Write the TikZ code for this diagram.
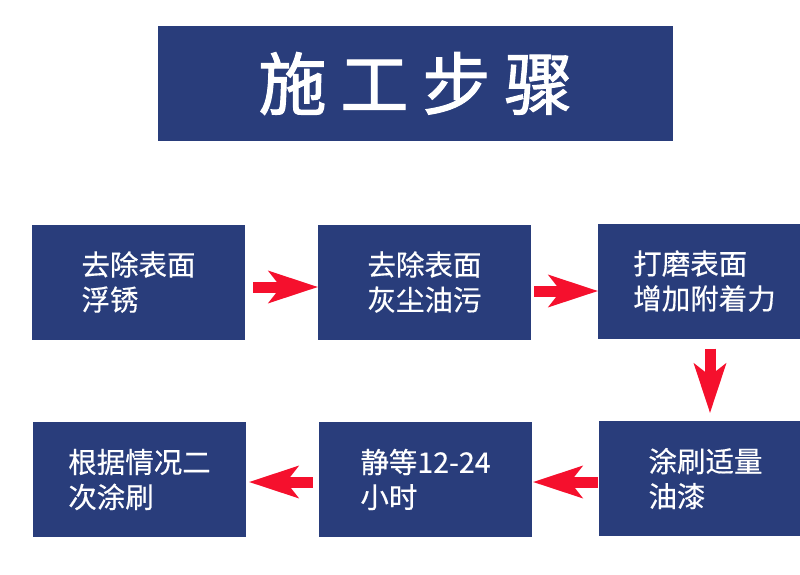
\documentclass[tikz,border=0pt]{standalone}
\usepackage{fontspec}
\newfontfamily\cjk[FakeBold=0.4]{Noto Sans CJK SC}
\newfontfamily\cjktitle[FakeBold=1.6]{Noto Sans CJK SC}
\usetikzlibrary{arrows.meta}
\definecolor{navy}{RGB}{41,61,123}
\definecolor{arrred}{RGB}{245,16,45}
\begin{document}
\begin{tikzpicture}[x=1pt,y=-1pt,
  stepbox/.style={fill=navy,draw=none,minimum width=213pt,minimum height=115pt,inner sep=0pt,
    text=white,align=left,font=\cjk\fontsize{28.5pt}{35pt}\selectfont},
  arr/.style={draw=arrred,line width=11pt,
    -{Stealth[length=50pt,width=33pt,inset=13pt,line width=0pt]}}]
\useasboundingbox (0,0) rectangle (800,574);
\fill[white] (0,0) rectangle (800,574);
\node[fill=navy,minimum width=515pt,minimum height=115pt,inner sep=0pt,text=white,
  font=\cjktitle\fontsize{68pt}{80pt}\selectfont] (title) at (415.5,83.5)
  {施\hspace{14pt}工\hspace{14pt}步\hspace{14pt}骤};
\node[stepbox] (b1) at (138.5,282) {去除表面\\浮锈};
\node[stepbox] (b2) at (424.5,282) {去除表面\\灰尘油污};
\node[stepbox] (b3) at (704.5,281) {打磨表面\\增加附着力};
\node[stepbox] (b4) at (139.5,479.5) {根据情况二\\次涂刷};
\node[stepbox] (b5) at (425.5,479.5) {静等12-24\\小时};
\node[stepbox] (b6) at (705.5,478.5) {涂刷适量\\油漆};
\draw[arr] ([shift={(8,5)}]b1.east) -- ([shift={(0,5)}]b2.west);
\draw[arr] ([shift={(3,9)}]b2.east) -- ([shift={(0,10)}]b3.west);
\draw[arr] ([shift={(5.5,10)}]b3.south) -- ([shift={(4.5,-8)}]b6.north);
\draw[arr] ([shift={(-1,3.5)}]b6.west) -- ([shift={(1,2.5)}]b5.east);
\draw[arr] ([shift={(-6,2.5)}]b5.west) -- ([shift={(3,2.5)}]b4.east);
\end{tikzpicture}
\end{document}
